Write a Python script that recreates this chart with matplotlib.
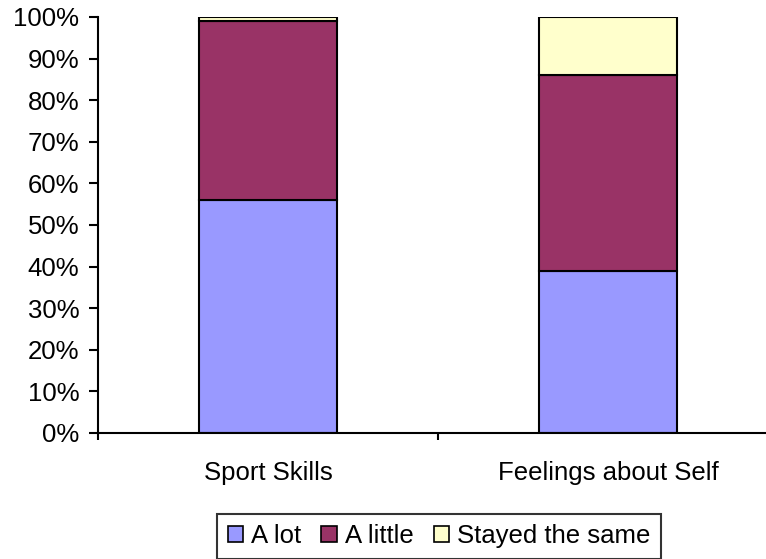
import matplotlib.pyplot as plt
from matplotlib.ticker import PercentFormatter

categories = ["Sport Skills", "Feelings about Self"]
a_lot = [56, 39]
a_little = [43, 47]
stayed_same = [1, 14]

series_names = ["A lot", "A little", "Stayed the same"]
colors = ["#9999FF", "#993366", "#FFFFCC"]

plt.rcParams['font.family'] = ['Liberation Sans', 'DejaVu Sans']
fs = 18.5

fig = plt.figure(figsize=(7.66, 5.59), dpi=100)
ax = fig.add_axes([98 / 766, 1 - 433 / 559, 680 / 766, 416 / 559])

x = [0, 1]
bottom = [0, 0]
for vals, name, col in zip([a_lot, a_little, stayed_same], series_names, colors):
    ax.bar(x, vals, width=0.405, bottom=bottom, color=col, edgecolor='black',
           linewidth=1.5, label=name)
    bottom = [b + v for b, v in zip(bottom, vals)]

ax.set_xlim(-0.5, 1.5)
ax.set_ylim(0, 100)
ax.set_yticks(range(0, 101, 10))
ax.yaxis.set_major_formatter(PercentFormatter(decimals=0))
ax.set_xticks([-0.5, 0.5, 1.5])
ax.set_xticklabels([])
ax.set_xticks(x, minor=True)
ax.set_xticklabels(categories, minor=True)
ax.tick_params(axis='x', which='minor', length=0, pad=20, labelsize=fs)
ax.tick_params(axis='x', which='major', direction='out', length=5, width=1.5)
ax.tick_params(axis='y', direction='out', length=6.5, width=1.5, labelsize=fs, pad=7)
ax.spines['top'].set_visible(False)
ax.spines['right'].set_visible(False)
for s in ['left', 'bottom']:
    ax.spines[s].set_linewidth(1.5)

leg = fig.legend(loc='upper center', bbox_to_anchor=(439 / 766, 1 - 514 / 559), ncol=3,
                 fontsize=fs, frameon=True, fancybox=False, edgecolor='black',
                 handlelength=0.6, handleheight=0.6, handletextpad=0.3,
                 columnspacing=0.8, borderpad=0.4, borderaxespad=0)
leg.get_frame().set_linewidth(1.5)
for h in leg.legend_handles:
    h.set_linewidth(1.2)

fig.savefig("out.png", dpi=100)
